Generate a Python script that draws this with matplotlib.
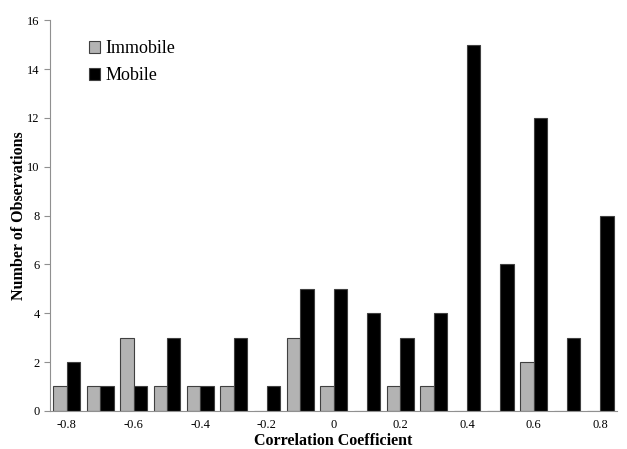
import numpy as np
import matplotlib.pyplot as plt

# correlation coefficient bins and observation counts
coeffs = [-0.8, -0.7, -0.6, -0.5, -0.4, -0.3, -0.2, -0.1, 0.0,
          0.1, 0.2, 0.3, 0.4, 0.5, 0.6, 0.7, 0.8]
immobile = [1, 1, 3, 1, 1, 1, 0, 3, 1, 0, 1, 1, 0, 0, 2, 0, 0]
mobile = [2, 1, 1, 3, 1, 3, 1, 5, 5, 4, 3, 4, 15, 6, 12, 3, 8]
tick_labels = ["-0.8", "-0.6", "-0.4", "-0.2", "0", "0.2", "0.4", "0.6", "0.8"]

plt.rcParams['font.family'] = ['Liberation Serif', 'DejaVu Serif']

fig = plt.figure(figsize=(6.27, 4.49), dpi=100)
ax = fig.add_axes([0.08, 0.085, 0.904, 0.87])

x = np.arange(len(coeffs))
w = 0.4
ax.bar(x - w / 2, immobile, w, color='#b3b3b3', edgecolor='#404040', linewidth=0.8, label='Immobile')
ax.bar(x + w / 2, mobile, w, color='black', edgecolor='#404040', linewidth=0.8, label='Mobile')

ax.set_xlim(-0.5, len(coeffs) - 0.5)
ax.set_ylim(0, 16)
ax.set_yticks(range(0, 17, 2))
ax.set_xticks(x[::2])
ax.set_xticklabels(tick_labels)
ax.tick_params(axis='x', length=0, labelsize=9, pad=6)
ax.tick_params(axis='y', length=4, color='#909090', labelsize=9, direction='out')

for side in ['top', 'right']:
    ax.spines[side].set_visible(False)
for side in ['left', 'bottom']:
    ax.spines[side].set_color('#909090')

ax.set_xlabel('Correlation Coefficient', fontsize=11.5, fontweight='bold', labelpad=1)
ax.set_ylabel('Number of Observations', fontsize=11.5, fontweight='bold')
ax.yaxis.set_label_coords(-0.04, 0.5)

ax.legend(loc='upper left', bbox_to_anchor=(0.04, 0.99), frameon=False, fontsize=13,
          handlelength=0.6, handleheight=0.6, handletextpad=0.3, labelspacing=0.55)

fig.savefig('out.png', dpi=100)
